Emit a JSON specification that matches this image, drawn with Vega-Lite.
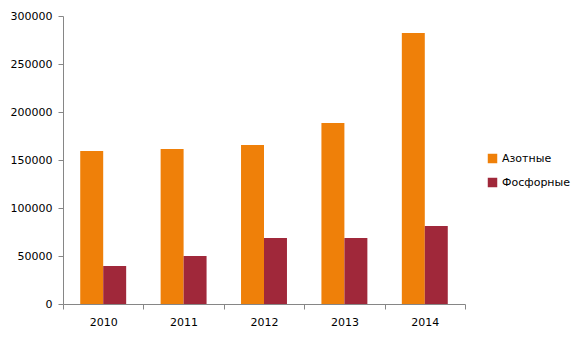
{
  "$schema": "https://vega.github.io/schema/vega-lite/v6.json",
  "width": 402,
  "height": 288,
  "autosize": {"type": "none"},
  "padding": {"left": 63, "top": 16, "right": 115, "bottom": 36},
  "background": "white",
  "config": {
    "view": {"stroke": null},
    "font": "DejaVu Sans",
    "axis": {"labelFont": "DejaVu Sans", "labelFontSize": 11, "labelColor": "#000000", "domainColor": "#868686", "tickColor": "#868686", "grid": false, "title": null}
  },
  "data": {
    "values": [
      {"year": "2010", "type": "Азотные", "value": 159500},
      {"year": "2010", "type": "Фосфорные", "value": 39600},
      {"year": "2011", "type": "Азотные", "value": 161500},
      {"year": "2011", "type": "Фосфорные", "value": 50000},
      {"year": "2012", "type": "Азотные", "value": 165600},
      {"year": "2012", "type": "Фосфорные", "value": 68800},
      {"year": "2013", "type": "Азотные", "value": 188500},
      {"year": "2013", "type": "Фосфорные", "value": 68800},
      {"year": "2014", "type": "Азотные", "value": 282300},
      {"year": "2014", "type": "Фосфорные", "value": 81200}
    ]
  },
  "mark": {"type": "bar"},
  "encoding": {
    "x": {
      "field": "year", "type": "nominal",
      "scale": {"paddingInner": 0, "paddingOuter": 0},
      "axis": {"labelAngle": 0, "tickBand": "extent", "tickSize": 5, "labelPadding": 7, "domainWidth": 1}
    },
    "xOffset": {
      "field": "type", "type": "nominal",
      "scale": {"paddingInner": 0, "paddingOuter": 0.75}
    },
    "y": {
      "field": "value", "type": "quantitative",
      "scale": {"domain": [0, 300000], "nice": false},
      "axis": {"values": [0, 50000, 100000, 150000, 200000, 250000, 300000], "format": "d", "tickSize": 5, "labelPadding": 6}
    },
    "color": {
      "field": "type", "type": "nominal",
      "scale": {"domain": ["Азотные", "Фосфорные"], "range": ["#EF8009", "#A0283A"]},
      "legend": {
        "title": null, "orient": "none", "legendX": 424, "legendY": 137,
        "symbolType": "square", "symbolSize": 90, "symbolStrokeWidth": 0,
        "labelFont": "DejaVu Sans", "labelFontSize": 11, "labelColor": "#000000",
        "rowPadding": 12, "labelOffset": 4
      }
    }
  }
}
